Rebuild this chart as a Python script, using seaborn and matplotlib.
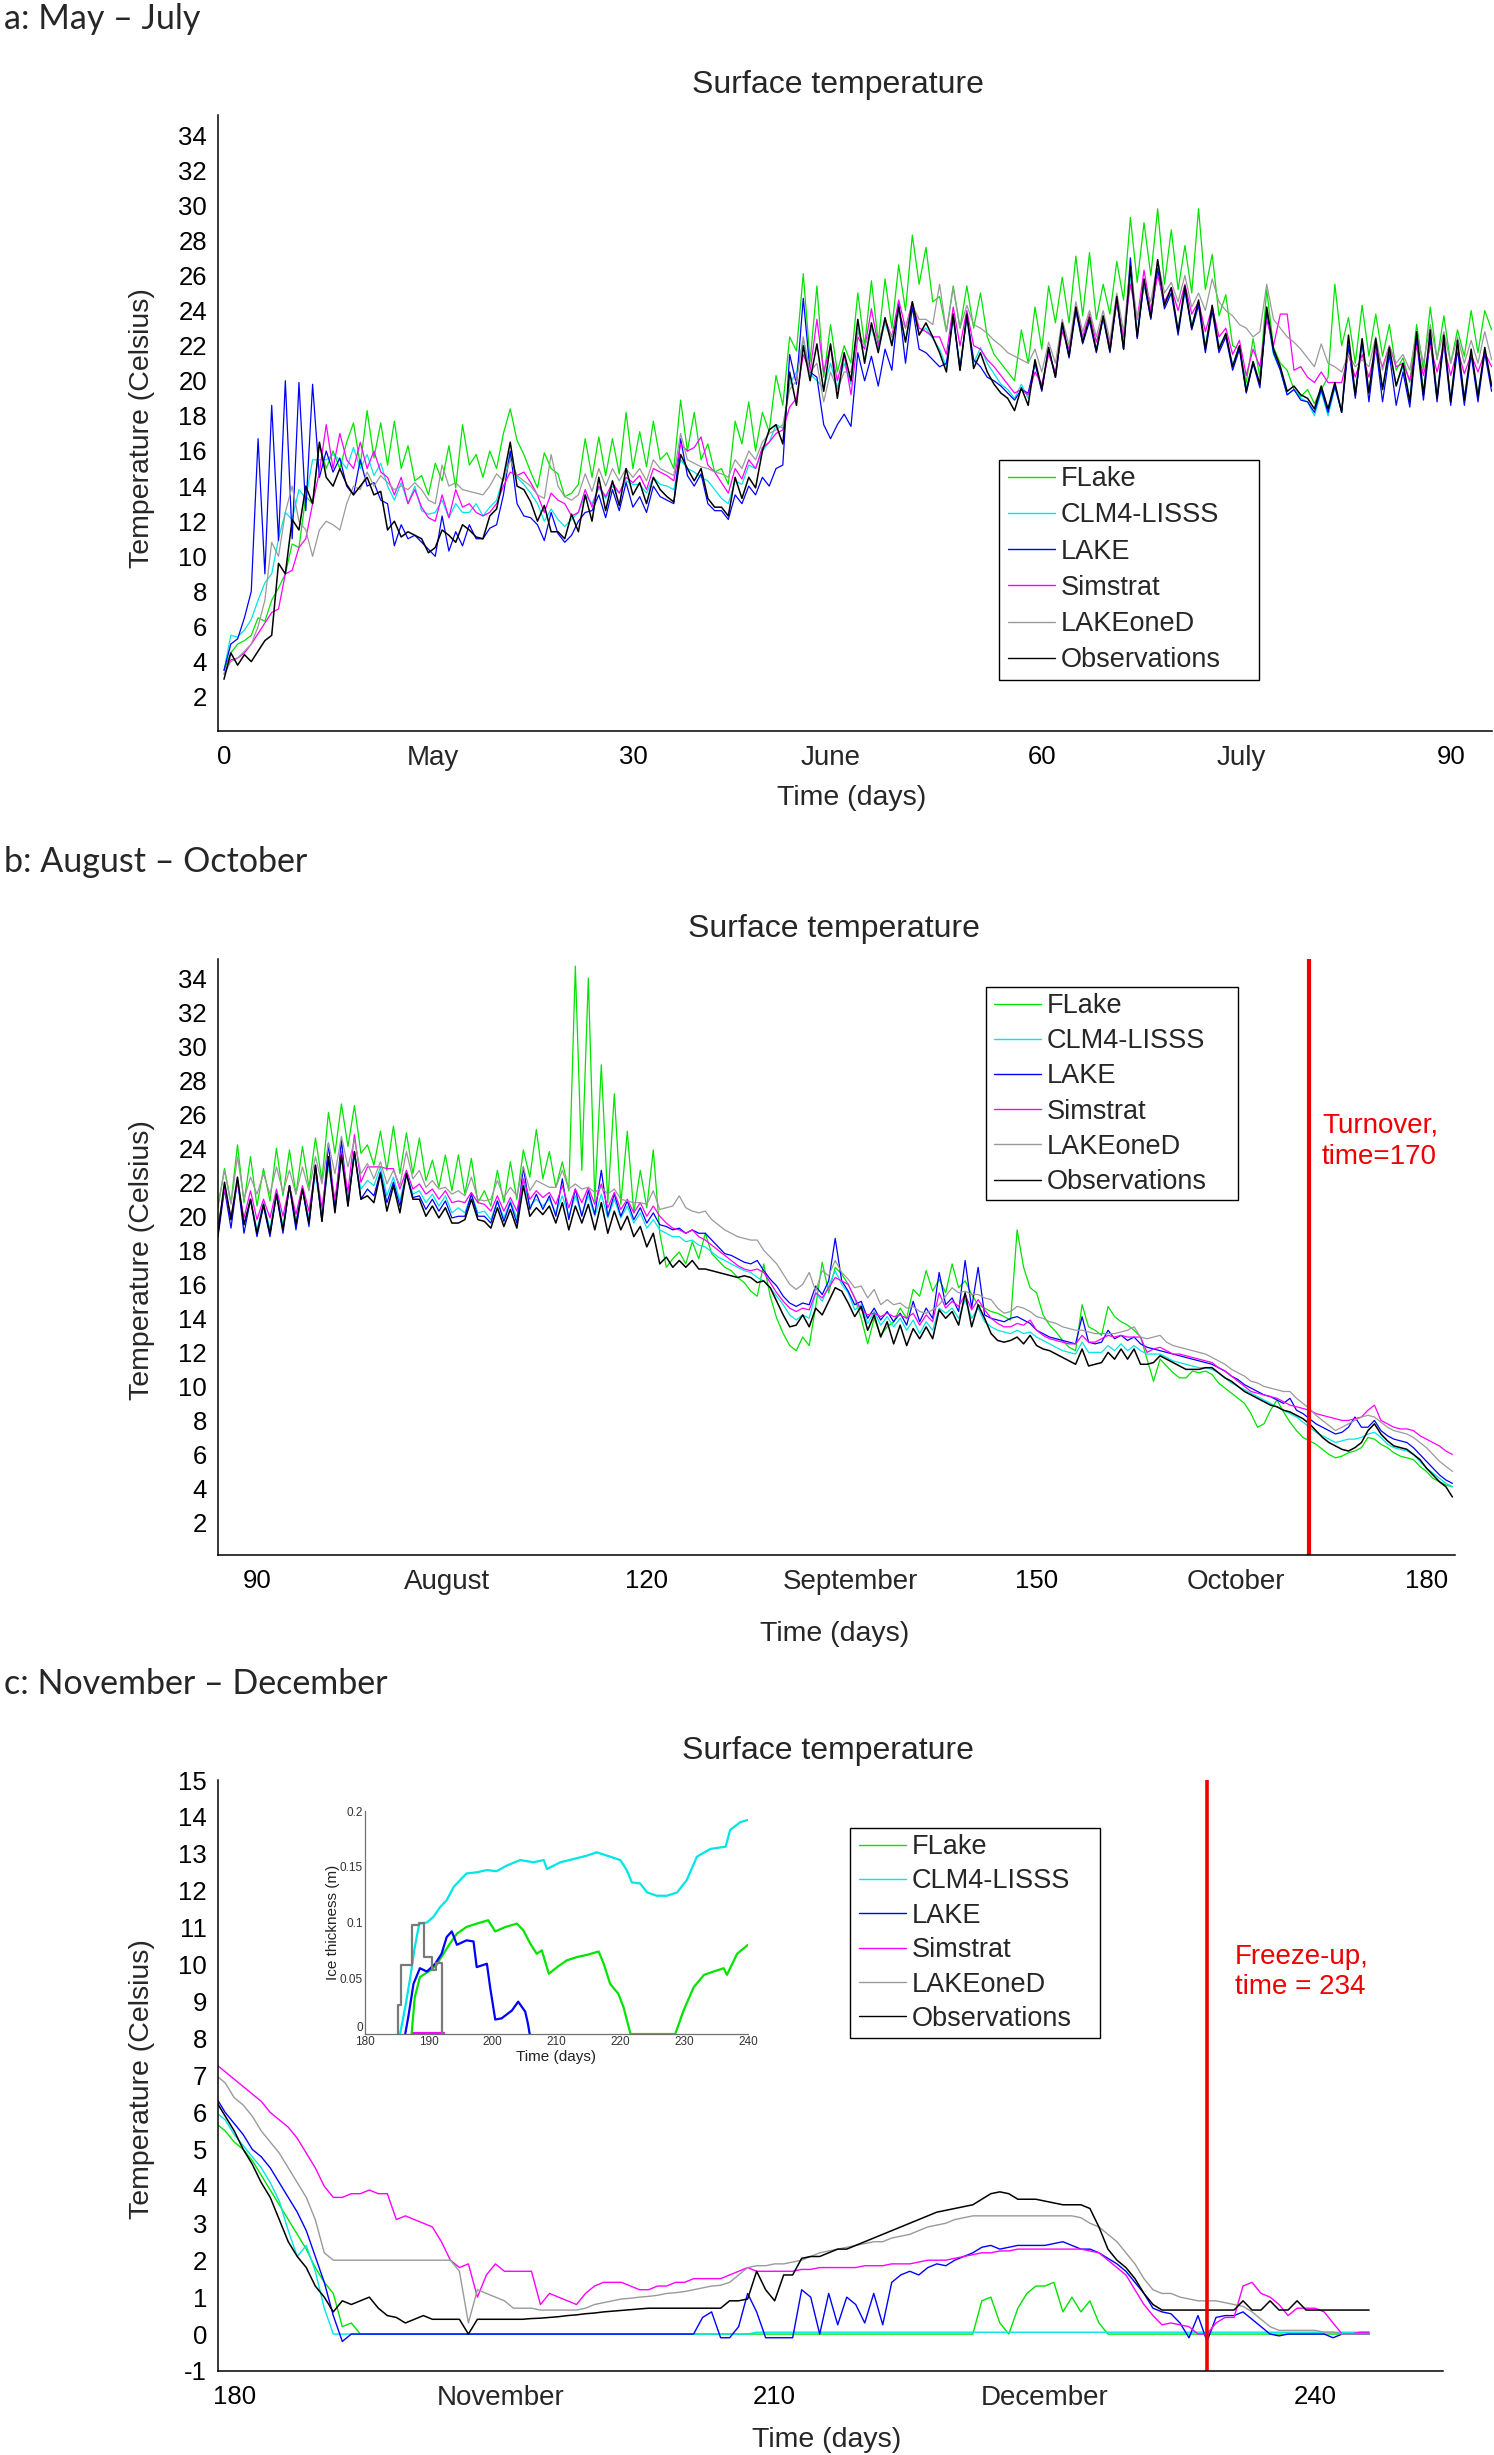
import numpy as np
import pandas as pd
import matplotlib
matplotlib.use("Agg")
import matplotlib.pyplot as plt
from matplotlib.lines import Line2D
from matplotlib.patches import Rectangle
import seaborn as sns

W, H = 1494, 2455

MODELS = ["FLake", "CLM4-LISSS", "LAKE", "Simstrat", "LAKEoneD", "Observations"]
COLORS = {"FLake": "#00e400", "CLM4-LISSS": "#00e6e6", "LAKE": "#0000ff",
          "Simstrat": "#ff00ff", "LAKEoneD": "#9a9a9a", "Observations": "#000000"}


def arr(s):
    return np.array(s.split(), dtype=float)


# ---------------- a: May - July (half-day samples) ----------------
DAYS_A = np.arange(0, 93.01, 0.5)
FLAKE_A = arr("""
3.5 4.5 5.0 5.2 5.5 6.5 6.3 7.5 8.2 9.0
10.7 10.5 13.4 13.0 16.4 15.0 16.0 15.0 16.5 17.6
15.2 18.3 15.6 17.6 15.2 17.7 15.0 16.3 14.3 14.6
13.5 15.3 14.3 16.3 13.9 17.5 15.2 15.8 14.5 16.0
15.0 17.0 18.4 16.6 15.8 14.8 13.9 15.9 15.0 14.7
13.4 13.6 14.1 16.7 14.5 16.8 14.6 16.7 14.7 18.2
15.0 17.1 15.1 17.7 15.5 15.9 15.0 18.9 16.0 18.2
15.5 16.4 14.8 15.0 14.1 17.7 16.4 18.8 16.0 18.2
17.1 20.3 18.6 22.5 21.7 26.1 21.1 25.4 20.2 23.2
20.5 22.0 21.0 25.0 22.0 25.7 22.2 25.8 23.0 26.6
24.0 28.3 25.5 27.6 24.5 24.8 22.8 25.4 23.0 25.4
23.0 25.0 22.5 21.5 21.0 20.5 20.0 22.9 21.0 24.2
21.8 25.4 23.3 25.9 23.3 27.1 23.7 27.3 23.5 25.5
23.8 26.8 24.6 29.3 25.6 29.0 26.0 29.8 25.5 28.6
25.2 27.7 25.0 29.8 25.2 27.2 23.7 24.9 22.0 21.8
19.9 22.4 20.2 25.2 21.9 21.0 20.6 19.5 19.1 19.5
18.7 19.5 20.2 25.5 22.0 23.6 21.0 24.3 21.4 23.8
21.4 23.2 20.6 21.3 19.9 23.2 20.6 24.2 21.2 23.7
21.0 22.9 21.4 24.0 21.6 24.0 22.9
""")
CLM4_A = arr("""
3.5 5.5 5.4 5.8 6.4 7.5 8.5 9.0 11.0 12.5
12.1 13.8 13.3 15.5 15.5 15.5 15.8 15.5 15.0 16.2
15.0 15.8 14.6 15.3 14.0 13.2 14.2 13.0 14.0 12.6
12.4 12.5 13.2 12.2 13.0 12.5 12.5 13.0 12.3 12.8
13.2 14.5 15.8 14.5 14.1 13.6 13.0 12.0 12.7 12.1
11.7 12.1 12.5 13.5 13.0 13.9 13.3 14.0 13.6 14.3
14.1 14.1 13.6 14.5 14.1 14.0 13.8 15.5 15.0 14.8
14.5 14.3 13.8 13.3 13.0 14.3 14.1 15.2 15.0 16.0
16.5 17.5 17.3 19.8 20.5 22.3 20.4 20.0 19.6 21.0
19.6 21.0 19.8 23.0 21.2 23.0 21.8 23.3 22.2 24.0
22.3 24.2 22.7 23.0 22.4 21.8 20.8 23.5 20.9 23.5
21.0 21.9 21.0 20.4 19.8 19.5 19.0 19.8 19.0 21.0
19.6 21.8 20.3 23.0 21.5 24.0 22.2 23.5 21.8 23.5
21.8 24.5 22.0 26.0 22.7 25.5 23.7 26.2 24.4 25.0
23.0 25.0 23.2 24.4 22.0 24.0 22.0 22.6 20.9 22.0
19.6 21.0 19.9 23.8 21.5 20.6 19.2 19.5 19.0 18.8
18.0 19.4 18.0 19.6 18.3 22.2 19.3 22.0 19.4 22.0
19.6 21.6 19.8 20.8 19.0 22.5 19.4 22.5 19.2 22.3
19.0 22.0 19.1 21.5 19.3 21.6 19.8
""")
LAKE_A = arr("""
3.5 5.0 5.3 6.5 8.0 16.7 9.0 18.6 10.9 20.0
11.0 19.9 12.6 19.8 14.5 16.0 14.8 15.6 14.0 13.5
15.5 14.0 14.2 13.2 13.0 10.6 11.8 11.0 11.2 10.8
10.4 10.0 12.3 10.3 11.4 10.6 11.8 11.0 11.0 11.6
11.8 13.5 16.0 13.0 12.3 12.2 11.8 10.9 12.5 11.3
10.8 11.2 12.0 12.5 12.6 13.5 12.2 13.8 12.6 14.2
12.8 13.4 12.5 14.0 13.4 13.2 13.0 16.7 14.6 14.0
14.7 13.0 12.6 12.6 12.1 13.5 13.0 14.0 13.5 14.5
14.0 15.0 15.2 21.5 19.8 24.7 20.5 20.2 17.5 16.7
17.5 18.1 17.4 21.6 20.0 21.4 19.7 21.8 20.6 24.4
21.0 24.2 21.8 21.6 21.2 20.8 21.0 23.7 20.6 23.7
21.2 20.8 20.2 20.0 19.7 19.3 18.9 19.5 19.3 21.0
19.4 21.8 20.2 23.2 21.3 24.0 22.1 23.4 21.6 23.6
21.6 24.6 21.8 27.0 22.4 25.6 23.5 26.4 24.1 25.0
22.6 25.2 22.9 24.3 21.6 24.0 21.6 22.5 20.6 21.8
19.3 21.0 19.6 24.0 21.6 20.6 19.2 19.5 18.9 18.8
18.2 19.5 18.2 19.7 18.2 22.0 19.0 22.3 18.8 22.0
18.8 21.5 18.6 20.5 18.5 22.3 18.9 22.4 18.8 22.2
18.6 21.8 18.6 21.5 18.8 21.6 19.4
""")
SIMSTRAT_A = arr("""
3.3 4.1 4.2 4.5 5.0 5.6 6.2 6.8 7.0 9.0
9.2 10.5 11.0 13.0 14.8 17.5 15.0 17.0 15.5 15.0
16.5 15.0 16.0 14.8 14.5 13.5 14.5 13.0 13.8 12.8
12.2 12.0 13.5 12.2 13.8 12.8 13.0 12.5 12.3 12.5
13.0 14.0 14.8 14.6 14.8 14.2 13.5 12.5 13.6 13.2
13.0 12.3 12.5 13.8 12.8 14.0 13.4 14.2 13.6 14.5
14.2 14.6 13.8 15.0 14.8 14.6 14.3 16.4 16.0 16.2
16.8 15.2 14.8 14.2 13.6 15.0 14.4 15.5 15.0 16.2
16.5 17.0 17.2 18.5 19.0 21.5 20.5 23.5 20.5 22.0
20.0 21.5 19.2 22.5 21.8 24.1 22.0 23.5 22.5 24.6
23.0 24.5 23.0 22.8 22.5 22.5 21.5 24.2 22.0 24.0
22.0 21.8 21.2 20.8 20.3 19.8 19.3 19.5 19.2 20.5
19.8 21.5 20.5 22.8 21.8 24.2 22.5 23.8 22.2 23.6
22.0 24.5 22.5 25.5 23.5 26.3 24.0 26.0 24.5 25.3
24.0 25.5 23.8 24.5 22.8 24.2 22.5 23.0 21.5 22.3
20.3 21.8 20.8 23.5 22.0 23.8 23.8 20.6 20.8 20.2
19.9 20.5 19.9 19.9 19.9 21.5 20.2 21.5 20.2 21.8
20.8 22.0 20.8 21.0 20.0 22.0 20.3 22.0 20.5 22.0
20.3 21.8 20.4 21.5 20.5 21.6 20.8
""")
LAKEONED_A = arr("""
3.3 4.0 4.2 4.6 5.0 6.0 7.5 10.8 10.0 12.5
14.0 12.0 11.5 10.0 11.5 12.0 11.8 11.5 13.0 14.0
13.8 14.8 14.0 14.6 14.2 13.8 14.0 13.8 14.2 13.8
13.2 13.0 15.2 14.0 14.2 13.8 13.7 13.6 13.5 14.0
14.7 14.3 15.5 14.6 14.3 14.0 13.5 13.3 15.8 14.0
13.4 13.2 13.5 14.7 13.7 15.0 14.0 15.0 14.3 15.0
14.5 15.0 14.3 15.5 15.0 14.8 14.6 17.0 15.5 15.3
15.1 15.0 14.8 14.7 14.5 15.5 15.0 16.0 15.5 16.5
17.0 17.2 17.5 19.5 20.0 22.5 20.5 21.0 18.8 20.5
19.5 20.5 20.5 22.8 22.0 23.0 22.3 23.3 22.5 23.8
23.0 24.3 23.5 23.5 23.2 25.5 22.8 25.3 23.0 24.3
23.2 23.0 22.7 22.3 22.0 21.6 21.4 21.2 21.0 21.8
20.5 22.2 21.0 23.5 22.0 24.5 22.8 24.0 22.5 24.0
22.3 25.0 22.8 26.5 23.5 25.5 24.5 26.8 25.0 25.6
24.5 26.0 24.2 25.0 24.0 25.8 24.5 24.0 23.7 23.2
23.0 22.5 22.8 25.5 23.5 23.0 22.5 22.2 21.8 21.3
20.8 22.1 21.0 20.8 20.5 21.5 20.8 21.2 20.8 22.5
20.6 22.0 21.0 21.5 20.6 22.8 21.0 23.2 21.3 22.8
21.0 22.5 21.0 22.3 21.0 22.8 21.2
""")
OBS_A = arr("""
3.0 4.5 3.8 4.4 4.0 4.6 5.2 5.5 9.6 9.0
12.1 11.5 14.0 13.0 16.5 14.5 14.0 15.0 14.1 13.5
14.0 14.5 13.5 13.7 11.5 12.0 11.1 11.4 11.2 11.0
10.2 10.5 11.5 11.2 10.8 11.8 11.5 11.1 11.0 12.3
12.7 14.5 16.5 14.0 13.8 13.1 12.0 12.9 11.4 11.4
11.0 12.4 11.4 13.5 12.0 14.5 12.6 14.3 12.9 15.0
13.5 14.2 13.0 14.5 13.8 13.4 13.1 15.8 15.0 14.3
15.0 13.3 12.8 12.8 12.3 14.5 13.3 14.5 13.9 16.0
17.2 17.5 16.4 20.5 18.6 22.0 20.0 22.1 19.4 22.1
19.0 21.6 20.0 23.5 21.0 23.3 21.6 23.6 22.0 24.2
22.2 24.5 22.6 23.3 22.5 21.6 20.5 23.8 20.6 23.8
20.7 21.6 20.5 19.8 19.3 19.0 18.3 19.6 18.6 21.2
19.5 21.9 20.2 23.3 21.4 24.2 22.2 23.6 21.7 23.7
21.7 24.8 21.8 26.5 22.5 25.8 23.6 26.9 24.3 25.3
22.8 25.4 23.0 24.6 21.8 24.3 21.8 22.7 20.8 22.0
19.4 21.1 19.8 24.2 21.8 20.8 19.4 19.7 19.2 19.0
18.4 19.7 18.4 19.9 18.2 22.6 19.2 22.4 19.3 22.4
19.5 21.9 19.7 21.0 18.8 22.8 19.2 22.9 19.0 22.6
18.8 22.3 18.9 21.8 19.1 21.9 19.7
""")

# ---------------- b: August - October ----------------
DAYS_B = np.arange(87, 182.01, 0.5)
FLAKE_B = arr("""
20.5 22.8 20.8 24.2 20.8 23.5 20.6 22.8 20.9 24.0
21.2 23.9 21.3 24.1 21.7 24.6 22.1 26.1 23.7 26.6
24.1 26.5 23.7 24.2 23.0 25.0 22.7 25.3 22.5 24.9
22.5 24.6 22.1 23.3 21.7 23.6 21.5 23.6 21.3 23.4
20.8 21.5 20.6 22.7 20.8 23.2 21.0 23.9 22.3 25.1
22.2 23.8 21.7 23.2 21.5 34.7 22.7 34.0 20.9 28.9
20.8 27.2 20.7 25.0 20.2 22.7 20.5 23.9 19.0 17.0
17.5 17.9 17.2 18.5 17.5 19.0 17.8 17.4 17.0 16.8
16.4 16.1 15.6 15.3 17.2 15.3 14.0 13.1 12.4 12.1
12.9 12.4 14.7 17.3 15.5 17.0 16.6 16.0 15.2 14.0
12.5 14.0 13.0 13.5 13.8 14.6 14.0 15.7 15.3 16.8
15.6 16.3 15.5 17.2 15.8 16.2 15.4 14.8 14.6 14.4
14.3 14.1 13.9 19.2 17.0 15.8 15.5 14.2 13.6 13.2
12.7 12.3 12.1 14.8 13.5 13.3 13.0 14.7 14.1 13.8
13.6 13.3 12.9 11.6 10.3 11.6 11.2 10.8 10.5 10.5
10.9 10.8 10.9 10.7 10.2 9.9 9.6 9.3 9.0 8.4
7.6 7.8 8.6 9.2 8.5 7.9 7.4 7.0 6.8 6.6
6.3 6.0 5.8 5.9 6.1 6.2 6.4 7.0 6.9 6.6
6.4 6.1 5.9 5.8 5.7 5.3 5.0 4.6 4.4 4.2
4.1
""")
CLM4_B = arr("""
19.0 21.8 19.8 22.0 19.5 21.0 19.2 20.8 19.2 21.5
19.4 21.8 19.7 21.6 19.9 22.5 20.0 23.0 20.6 23.4
21.0 23.5 21.6 22.1 21.8 22.9 21.2 22.3 20.9 22.6
21.3 21.5 20.8 21.3 20.6 21.2 20.2 20.5 20.2 21.3
20.2 20.3 19.8 20.9 19.9 20.9 19.9 22.0 20.6 21.0
20.6 21.0 20.2 21.2 20.0 21.2 20.1 21.2 20.0 21.3
19.9 21.0 19.9 20.6 19.6 20.2 19.3 19.8 19.2 19.0
18.8 18.8 18.5 18.6 18.3 18.2 17.9 17.6 17.4 17.2
17.0 16.8 16.7 16.4 16.2 15.8 15.3 14.8 14.2 13.9
14.2 14.0 15.5 15.0 15.9 16.8 16.0 15.5 14.5 14.8
13.7 14.4 13.6 14.1 13.5 14.0 13.3 13.9 13.1 13.8
13.3 14.6 14.3 14.6 14.0 15.1 14.0 14.6 13.8 13.5
13.3 13.2 13.1 13.3 13.1 13.2 12.9 12.7 12.5 12.3
12.1 12.0 11.9 12.6 12.0 12.0 12.0 12.4 12.1 12.5
12.1 12.4 12.1 11.9 11.9 11.9 11.7 11.5 11.4 11.3
11.2 11.1 11.1 11.0 10.8 10.5 10.2 10.0 9.8 9.6
9.4 9.2 9.0 8.8 8.6 8.4 8.2 7.9 7.6 7.3
7.1 6.9 6.7 6.8 6.9 6.9 7.0 7.2 7.3 7.0
6.6 6.4 6.3 6.2 6.0 5.6 5.2 4.9 4.6 4.3
4.1
""")
LAKE_B = arr("""
18.8 21.6 19.3 22.2 19.0 21.0 18.8 20.6 18.8 21.3
19.0 21.8 19.2 21.6 19.4 23.0 19.7 24.3 20.3 24.5
20.6 23.8 21.0 21.6 21.2 22.6 20.8 22.0 20.6 22.5
21.1 21.2 20.4 21.0 20.3 20.9 19.9 20.0 20.0 21.3
20.0 20.0 19.6 20.9 19.7 20.8 19.6 22.9 20.4 21.3
20.4 21.2 20.0 22.2 19.8 21.6 20.0 21.5 20.1 22.7
20.0 21.3 20.0 20.9 19.8 20.5 19.6 20.2 19.5 19.4
19.2 19.3 19.0 19.2 19.0 19.0 18.6 18.2 17.8 17.7
17.5 17.3 17.2 17.4 16.8 16.3 15.9 15.3 14.9 14.7
14.9 14.8 15.9 15.4 16.2 18.7 16.2 15.6 14.8 15.0
14.0 14.6 13.9 14.4 13.8 14.3 13.6 15.0 13.8 14.6
14.0 16.7 14.8 15.2 14.4 17.4 14.6 17.0 14.2 14.0
13.9 13.8 14.0 14.1 13.9 13.7 13.3 13.1 12.9 12.8
12.7 12.6 12.5 14.1 12.6 12.5 12.6 13.3 12.8 13.0
12.7 12.9 12.5 12.3 12.2 12.1 12.0 11.9 11.8 11.7
11.6 11.5 11.4 11.3 11.1 10.9 10.6 10.4 10.1 9.9
9.7 9.5 9.4 9.2 9.0 9.3 8.6 8.4 8.1 7.8
7.6 7.4 7.2 7.3 7.6 8.2 7.6 7.6 8.0 7.4
7.1 6.9 6.8 6.7 6.4 6.0 5.6 5.2 4.8 4.5
4.3
""")
SIMSTRAT_B = arr("""
19.5 21.6 20.0 22.0 19.9 21.5 19.8 21.0 19.9 21.6
20.0 21.8 20.1 21.8 20.3 22.8 20.5 23.3 21.0 23.8
21.4 24.8 22.0 22.9 22.9 22.9 22.8 22.8 21.6 22.7
21.6 21.9 21.3 21.6 21.0 21.5 20.8 20.9 20.8 21.4
20.8 20.7 20.3 21.2 20.3 21.1 20.3 22.2 21.0 21.5
21.1 21.4 20.7 21.8 20.5 21.6 20.8 21.7 20.7 21.9
20.5 21.4 20.4 21.0 20.2 20.8 20.0 20.6 20.0 19.6
19.3 19.2 19.0 19.2 18.8 18.6 18.3 18.0 17.7 17.4
17.1 16.9 16.8 16.9 16.7 16.1 15.5 15.0 14.6 14.4
14.6 14.5 15.5 15.2 15.8 16.4 16.2 16.0 15.2 14.5
14.2 14.3 14.1 14.3 14.1 14.2 14.0 14.3 13.6 14.2
13.8 15.5 14.6 15.0 14.7 15.4 14.5 15.1 14.5 14.0
13.7 13.5 13.5 13.7 13.6 13.9 13.3 13.0 12.8 12.7
12.6 12.5 12.5 13.0 12.6 12.6 12.8 13.0 12.9 13.0
12.9 12.9 12.9 12.0 12.2 12.3 12.1 11.9 11.9 11.8
11.7 11.6 11.5 11.4 11.1 10.9 10.6 10.3 10.0 9.7
9.6 9.5 9.4 9.3 9.1 8.9 8.8 8.7 8.6 8.4
8.3 8.2 8.1 8.0 8.0 8.1 8.2 8.6 8.9 8.0
7.8 7.6 7.5 7.5 7.4 7.1 6.9 6.7 6.5 6.2
6.0
""")
LAKEONED_B = arr("""
20.7 22.7 20.7 23.5 21.0 22.3 21.3 22.5 21.3 22.9
21.4 22.7 21.3 22.9 21.5 23.5 21.9 24.3 22.5 24.7
22.9 24.5 22.5 23.1 22.2 23.2 21.9 22.7 21.8 23.8
22.2 22.7 21.7 22.1 21.6 21.7 21.3 21.5 21.2 22.3
21.0 20.9 21.0 22.1 21.1 21.7 21.2 22.9 21.5 22.1
21.9 21.7 21.7 22.7 21.6 21.9 21.6 21.7 21.4 21.7
21.3 21.6 21.0 20.9 20.8 20.8 20.7 21.5 20.4 20.5
20.6 21.2 20.5 20.3 20.2 20.3 19.8 19.5 19.2 19.0
18.8 18.7 18.6 18.6 18.0 17.6 17.2 16.6 16.0 15.7
16.0 16.7 15.6 16.8 16.5 17.4 16.7 16.3 15.8 15.9
15.2 15.7 14.8 15.1 14.8 14.9 14.6 14.7 14.4 14.3
14.5 14.8 15.3 15.8 15.5 15.6 15.4 15.4 15.2 15.1
14.6 14.3 14.4 14.7 14.6 14.4 14.1 14.0 13.8 13.7
13.5 13.4 13.3 13.3 13.2 13.1 13.1 13.1 13.1 13.2
13.3 13.5 12.9 12.8 12.9 13.0 12.6 12.4 12.3 12.2
12.1 12.0 11.9 11.7 11.5 11.3 11.0 10.8 10.6 10.3
10.2 10.0 9.9 9.8 9.7 9.7 9.3 9.0 8.7 8.3
8.0 7.7 7.4 7.6 7.8 8.0 8.2 8.3 8.2 7.9
7.6 7.4 7.3 7.2 7.0 6.7 6.4 6.0 5.6 5.3
5.0
""")
OBS_B = arr("""
19.0 22.0 19.8 22.3 19.5 21.0 19.0 20.7 19.0 21.3
19.2 21.8 19.5 21.6 19.6 23.0 19.7 23.5 20.2 23.6
20.6 23.8 21.0 21.2 20.8 22.5 20.3 21.8 20.2 22.5
21.0 21.0 20.0 20.6 19.9 20.5 19.6 19.6 19.8 21.0
19.8 19.7 19.3 20.5 19.4 20.4 19.3 21.8 20.0 20.5
20.1 20.6 19.6 20.8 19.2 20.6 19.6 20.7 19.2 20.8
19.0 20.3 19.2 20.0 18.8 19.4 18.2 19.0 17.2 17.6
17.0 17.4 17.0 17.4 16.9 16.9 16.8 16.7 16.6 16.5
16.4 16.5 16.4 16.1 16.2 15.8 15.0 14.2 13.5 13.6
14.2 13.5 14.6 14.2 15.0 15.8 15.6 14.9 14.1 14.7
13.3 14.2 12.9 13.8 12.5 13.6 12.4 13.4 12.8 13.5
12.8 14.5 14.0 14.4 13.6 15.5 13.5 14.8 14.0 13.1
12.7 12.6 12.7 12.9 12.5 13.0 12.4 12.2 12.1 11.9
11.7 11.5 11.3 12.2 11.2 11.3 11.4 12.0 11.6 12.2
11.6 12.2 11.3 11.3 11.4 11.8 11.6 11.4 11.2 11.0
11.0 11.0 11.1 11.1 10.8 10.5 10.3 10.0 9.7 9.5
9.3 9.1 8.9 8.8 8.6 8.5 8.3 8.1 7.8 7.4
7.0 6.7 6.5 6.3 6.2 6.4 6.7 7.4 7.8 7.2
6.8 6.5 6.4 6.3 6.0 5.7 5.2 4.8 4.4 4.1
3.5
""")

# ---------------- c: November - December ----------------
DAYS_C = np.arange(179, 243.01, 0.5)
FLAKE_C = arr("""
5.7 5.5 5.2 5.0 4.7 4.3 3.9 3.5 3.1 2.7
2.3 1.8 1.4 1.1 0.2 0.3 0.0 0.0 0.0 0.0
0.0 0.0 0.0 0.0 0.0 0.0 0.0 0.0 0.0 0.0
0.0 0.0 0.0 0.0 0.0 0.0 0.0 0.0 0.0 0.0
0.0 0.0 0.0 0.0 0.0 0.0 0.0 0.0 0.0 0.0
0.0 0.0 0.0 0.0 0.0 0.0 0.0 0.0 0.0 0.0
0.0 0.0 0.0 0.0 0.0 0.0 0.0 0.0 0.0 0.0
0.0 0.0 0.0 0.0 0.0 0.0 0.0 0.0 0.0 0.0
0.0 0.0 0.0 0.0 0.0 0.9 1.0 0.3 0.0 0.7
1.1 1.3 1.3 1.4 0.6 1.0 0.6 0.9 0.3 0.0
0.0 0.0 0.0 0.0 0.0 0.0 0.0 0.0 0.0 0.0
0.0 0.0 0.0 0.0 0.0 0.0 0.0 0.0 0.0 0.0
0.0 0.0 0.0 0.0 0.0 0.0 0.0 0.0 0.0
""")
CLM4_C = arr("""
6.0 5.8 5.4 5.1 4.8 4.5 4.1 3.6 2.8 2.1
2.4 1.7 0.7 0.0 0.0 0.0 0.0 0.0 0.0 0.0
0.0 0.0 0.0 0.0 0.0 0.0 0.0 0.0 0.0 0.0
0.0 0.0 0.0 0.0 0.0 0.0 0.0 0.0 0.0 0.0
0.0 0.0 0.0 0.0 0.0 0.0 0.0 0.0 0.0 0.0
0.0 0.0 0.0 0.0 0.0 0.0 0.0 0.0 0.0 0.0
0.05 0.05 0.05 0.05 0.05 0.05 0.05 0.05 0.05 0.05
0.05 0.05 0.05 0.05 0.05 0.05 0.05 0.05 0.05 0.05
0.05 0.05 0.05 0.05 0.05 0.05 0.05 0.05 0.05 0.05
0.05 0.05 0.05 0.05 0.05 0.05 0.05 0.05 0.05 0.05
0.05 0.05 0.05 0.05 0.05 0.05 0.05 0.05 0.05 0.05
0.05 0.05 0.05 0.05 0.05 0.05 0.05 0.05 0.05 0.05
0.05 0.05 0.05 0.05 0.05 0.05 0.05 0.05 0.05
""")
LAKE_C = arr("""
6.4 6.0 5.7 5.4 5.0 4.8 4.5 4.1 3.7 3.3
2.8 2.1 1.4 0.5 -0.2 0.0 0.0 0.0 0.0 0.0
0.0 0.0 0.0 0.0 0.0 0.0 0.0 0.0 0.0 0.0
0.0 0.0 0.0 0.0 0.0 0.0 0.0 0.0 0.0 0.0
0.0 0.0 0.0 0.0 0.0 0.0 0.0 0.0 0.0 0.0
0.0 0.0 0.0 0.0 0.45 0.6 -0.1 -0.1 0.2 1.1
0.6 -0.1 -0.1 -0.1 -0.1 1.2 1.0 0.0 1.1 0.25
1.0 0.8 0.3 1.1 0.25 1.4 1.6 1.7 1.6 1.8
1.9 1.85 2.0 2.1 2.2 2.35 2.4 2.3 2.35 2.4
2.4 2.4 2.4 2.45 2.5 2.4 2.3 2.3 2.2 2.05
1.9 1.7 1.4 1.1 0.7 0.6 0.55 0.3 -0.1 0.5
-0.2 0.45 0.5 0.5 0.6 0.4 0.2 0.0 -0.05 0.0
0.0 0.0 0.0 0.0 -0.1 0.0 0.0 0.0 0.0
""")
SIMSTRAT_C = arr("""
7.3 7.1 6.9 6.7 6.5 6.3 6.0 5.8 5.6 5.3
4.9 4.5 4.0 3.7 3.7 3.8 3.8 3.9 3.8 3.8
3.1 3.2 3.1 3.0 2.9 2.5 2.0 1.8 1.9 1.0
1.6 1.9 1.7 1.7 1.7 1.7 0.8 1.1 1.0 0.9
0.8 1.1 1.3 1.4 1.4 1.4 1.3 1.2 1.2 1.3
1.3 1.4 1.4 1.5 1.5 1.5 1.5 1.6 1.7 1.8
1.7 1.7 1.7 1.7 1.7 1.75 1.75 1.8 1.8 1.8
1.8 1.8 1.85 1.85 1.85 1.9 1.9 1.9 1.95 2.0
2.0 2.0 2.05 2.1 2.15 2.2 2.2 2.25 2.25 2.3
2.3 2.3 2.3 2.3 2.3 2.3 2.3 2.25 2.2 2.0
1.8 1.6 1.2 0.8 0.5 0.25 0.3 0.25 0.2 0.0
0.0 0.3 0.45 0.45 1.3 1.4 1.1 1.0 0.8 0.5
0.7 0.7 0.7 0.6 0.3 0.0 0.0 0.05 0.05
""")
LAKEONED_C = arr("""
7.0 6.8 6.4 6.2 5.9 5.5 5.2 4.9 4.5 4.1
3.7 3.1 2.2 2.0 2.0 2.0 2.0 2.0 2.0 2.0
2.0 2.0 2.0 2.0 2.0 2.0 2.0 1.7 0.3 1.2
1.1 1.0 0.9 0.7 0.7 0.7 0.65 0.65 0.65 0.65
0.65 0.7 0.8 0.85 0.9 0.95 0.97 1.0 1.02 1.05
1.1 1.12 1.15 1.2 1.25 1.3 1.32 1.4 1.6 1.8
1.85 1.85 1.9 1.9 1.95 2.0 2.1 2.2 2.25 2.3
2.35 2.4 2.45 2.5 2.5 2.6 2.65 2.7 2.8 2.9
2.95 3.0 3.1 3.15 3.2 3.2 3.2 3.2 3.2 3.2
3.2 3.2 3.2 3.2 3.2 3.2 3.15 3.0 2.9 2.7
2.5 2.2 1.9 1.5 1.2 1.1 1.1 1.0 0.95 0.9
0.9 0.9 0.85 0.8 0.75 0.6 0.4 0.2 0.1 0.1
0.1 0.1 0.1 0.05 0.05 0.0 0.0 0.0 0.0
""")
OBS_C = arr("""
6.3 5.9 5.5 5.0 4.6 4.1 3.7 3.1 2.5 2.1
1.8 1.3 1.0 0.6 0.9 0.8 0.9 1.0 0.7 0.5
0.45 0.3 0.4 0.5 0.4 0.4 0.4 0.4 0.0 0.4
0.4 0.4 0.4 0.4 0.4 0.42 0.43 0.45 0.47 0.5
0.52 0.55 0.57 0.6 0.62 0.64 0.66 0.68 0.7 0.7
0.7 0.7 0.7 0.7 0.7 0.7 0.7 0.9 0.9 0.95
1.7 1.2 0.9 1.6 1.6 2.05 2.1 2.1 2.2 2.3
2.3 2.4 2.5 2.6 2.7 2.8 2.9 3.0 3.1 3.2
3.3 3.35 3.4 3.45 3.5 3.65 3.8 3.85 3.8 3.65
3.65 3.65 3.6 3.55 3.5 3.5 3.5 3.4 2.9 2.3
2.0 1.8 1.5 1.1 0.8 0.65 0.65 0.65 0.65 0.65
0.65 0.65 0.65 0.65 0.9 0.65 0.65 0.9 0.65 0.65
0.9 0.65 0.65 0.65 0.65 0.65 0.65 0.65 0.65
""")

# ice thickness inset (m)
ICE_CLM4_DAYS = [185.5, 186.3, 187.1, 187.8, 188.5, 189.7, 190.7, 191.8, 192.8, 193.9,
                 194.9, 195.9, 197.5, 199.1, 200.6, 202.2, 204.3, 206.4, 208.0, 208.5,
                 210.6, 212.7, 214.8, 216.3, 217.9, 220.0, 221.0, 221.8, 223.1, 224.2,
                 225.7, 227.3, 228.9, 230.4, 232.0, 234.1, 236.5, 237.2, 238.8, 240.0]
ICE_CLM4 = [0, 0.024, 0.051, 0.078, 0.099, 0.1, 0.105, 0.114, 0.12, 0.132,
            0.138, 0.144, 0.145, 0.147, 0.146, 0.151, 0.156, 0.154, 0.156, 0.148,
            0.154, 0.157, 0.16, 0.163, 0.16, 0.156, 0.147, 0.136, 0.135, 0.127,
            0.124, 0.124, 0.127, 0.138, 0.159, 0.166, 0.168, 0.183, 0.19, 0.192]
ICE_FLAKE_DAYS = [187.3, 187.8, 188.6, 190.2, 191.2, 192.3, 193.3, 194.4, 195.9, 197.5,
                  199.3, 200.4, 202.0, 203.8, 204.8, 205.9, 206.9, 207.7, 208.8, 210.1,
                  211.6, 213.2, 214.8, 216.6, 217.4, 218.4, 219.7, 220.5, 221.6, 228.6,
                  229.9, 231.5, 233.1, 234.6, 236.2, 236.7, 238.3, 240.0]
ICE_FLAKE = [0, 0.033, 0.051, 0.057, 0.062, 0.072, 0.081, 0.09, 0.096, 0.099,
             0.102, 0.092, 0.096, 0.099, 0.093, 0.081, 0.072, 0.075, 0.054, 0.06,
             0.066, 0.069, 0.071, 0.074, 0.063, 0.045, 0.036, 0.024, 0, 0,
             0.021, 0.042, 0.053, 0.056, 0.059, 0.053, 0.072, 0.08]
ICE_LAKE_DAYS = [186.3, 186.8, 187.6, 188.6, 189.7, 191.0, 192.0, 192.8, 193.6, 194.4,
                 195.9, 197.0, 197.5, 199.1, 199.6, 200.4, 201.4, 203.0, 204.0, 205.1,
                 205.5, 205.8]
ICE_LAKE = [0, 0.016, 0.045, 0.059, 0.056, 0.063, 0.072, 0.087, 0.092, 0.08,
            0.084, 0.083, 0.06, 0.063, 0.042, 0.013, 0.014, 0.021, 0.029, 0.02,
            0.01, 0]
ICE_ONED_DAYS = [185.2, 185.2, 185.7, 187.3, 188.5, 189.3, 190.5, 191.2, 192.1]
ICE_ONED = [0, 0.026, 0.062, 0.098, 0.1, 0.069, 0.057, 0.064, 0]
ICE_SIM_DAYS = [187.3, 192.3]
ICE_SIM = [0.0005, 0.0005]

MONTHS_A, MONTH_POS_A = ["May", "June", "July"], [15.3, 44.5, 74.6]
MONTHS_B, MONTH_POS_B = ["August", "September", "October"], [104.6, 135.7, 165.3]
MONTHS_C, MONTH_POS_C = ["November", "December"], [194.8, 225.0]

sns.set_theme(style="white")
plt.rcParams["font.family"] = ["Liberation Sans", "DejaVu Sans"]

fig = plt.figure(figsize=(W / 100, H / 100), dpi=100)


def fx(px):
    return px / W


def fy(py):
    return 1 - py / H


def draw(ax, days, values, name, lw):
    df = pd.DataFrame({"day": days, "temp": values})
    assert len(days) == len(values), (name, len(days), len(values))
    sns.lineplot(data=df, x="day", y="temp", ax=ax, color=COLORS[name],
                 linewidth=lw, estimator=None, sort=False)


def style_axes(ax, xlim, ylim, xticks, yticks, months, mpos):
    ax.set_xlim(*xlim)
    ax.set_ylim(*ylim)
    ax.set_xlabel("")
    ax.set_ylabel("")
    for s in ["top", "right"]:
        ax.spines[s].set_visible(False)
    for s in ["left", "bottom"]:
        ax.spines[s].set_color("black")
        ax.spines[s].set_linewidth(1.1)
    ax.set_xticks(xticks)
    ax.set_xticklabels([str(t) for t in xticks])
    ax.set_xticks(mpos, minor=True)
    ax.set_xticklabels(months, minor=True)
    ax.set_yticks(yticks)
    ax.set_yticklabels([str(t) for t in yticks])
    ax.tick_params(axis="both", which="major", direction="in", length=8.5, width=1,
                   color="black", labelsize=18.5, labelcolor="black")
    ax.tick_params(axis="x", which="major", pad=10)
    ax.tick_params(axis="y", which="major", pad=8)
    ax.tick_params(axis="x", which="minor", length=0, labelsize=20, pad=10)
    ax.tick_params(axis="y", which="minor", left=False)
    ax.grid(False)


def add_legend(ax, hx, hy, box, spacing):
    handles = [Line2D([], [], color=COLORS[m], lw=1.0) for m in MODELS]
    ax.legend(handles, MODELS, loc="upper left", bbox_to_anchor=(fx(hx), fy(hy)),
              bbox_transform=fig.transFigure, frameon=False, borderpad=0,
              borderaxespad=0, handlelength=1.75, handletextpad=0.2,
              labelspacing=spacing, fontsize=19.5)
    x0, y0, x1, y1 = box
    fig.add_artist(Rectangle((fx(x0), fy(y1)), (x1 - x0) / W, (y1 - y0) / H,
                             transform=fig.transFigure, fill=False,
                             edgecolor="black", linewidth=1.0))


def panel_text(label, ybase, title, tx, tbase, ylab_y, xlab_x, xlab_y):
    fig.text(fx(4), fy(ybase), label, family=["Lato", "DejaVu Sans"], fontsize=24.5,
             va="baseline", ha="left")
    fig.text(fx(tx), fy(tbase), title, fontsize=23, ha="center", va="baseline")
    fig.text(fx(142), fy(ylab_y), "Temperature (Celsius)", fontsize=20.5,
             rotation=90, ha="center", va="center")
    fig.text(fx(xlab_x), fy(xlab_y), "Time (days)", fontsize=20.5,
             ha="center", va="center")


# ---- panel a
ax_a = fig.add_axes([fx(218), fy(731), (1492 - 218) / W, (731 - 115) / H])
for name, vals in zip(MODELS, [FLAKE_A, CLM4_A, LAKE_A, SIMSTRAT_A, LAKEONED_A, OBS_A]):
    draw(ax_a, DAYS_A, vals, name, 1.1 if name == "Observations" else 0.9)
style_axes(ax_a, (-0.44, 93.03), (0.05, 35.14), [0, 30, 60, 90],
           list(range(2, 35, 2)), MONTHS_A, MONTH_POS_A)
add_legend(ax_a, 1008, 466, (999, 460, 1259, 680), 0.38)
panel_text("a: May \u2013 July", 29, "Surface temperature", 838, 93, 428, 852, 798)

# ---- panel b
ax_b = fig.add_axes([fx(218), fy(1555), (1455 - 218) / W, (1555 - 959) / H])
for name, vals in zip(MODELS, [FLAKE_B, CLM4_B, LAKE_B, SIMSTRAT_B, LAKEONED_B, OBS_B]):
    draw(ax_b, DAYS_B, vals, name, 1.1 if name == "Observations" else 0.9)
ax_b.axvline(171, color="#ee0000", linewidth=3)
style_axes(ax_b, (87.0, 182.2), (0.09, 35.12), [90, 120, 150, 180],
           list(range(2, 35, 2)), MONTHS_B, MONTH_POS_B)
add_legend(ax_b, 994, 993, (986, 987, 1238, 1200), 0.34)
ax_b.text(fx(1322), fy(1133), "Turnover,", transform=fig.transFigure,
          color="#ee0000", fontsize=20, va="baseline")
ax_b.text(fx(1322), fy(1164), "time=170", transform=fig.transFigure,
          color="#ee0000", fontsize=20, va="baseline")
panel_text("b: August \u2013 October", 872, "Surface temperature", 834, 937, 1260, 835, 1634)

# ---- panel c
ax_c = fig.add_axes([fx(218), fy(2371), (1443 - 218) / W, (2371 - 1780) / H])
for name, vals in zip(MODELS, [FLAKE_C, CLM4_C, LAKE_C, SIMSTRAT_C, LAKEONED_C, OBS_C]):
    draw(ax_c, DAYS_C, vals, name, 1.1 if name == "Observations" else 1.0)
ax_c.axvline(234, color="#ee0000", linewidth=2.6)
style_axes(ax_c, (179.1, 247.1), (-1, 15), [180, 210, 240],
           list(range(-1, 16)), MONTHS_C, MONTH_POS_C)
add_legend(ax_c, 859, 1834, (850, 1828, 1100, 2038), 0.31)
ax_c.text(fx(1235), fy(1964), "Freeze-up,", transform=fig.transFigure,
          color="#ee0000", fontsize=20, va="baseline")
ax_c.text(fx(1235), fy(1994), "time = 234", transform=fig.transFigure,
          color="#ee0000", fontsize=20, va="baseline")
panel_text("c: November \u2013 December", 1694, "Surface temperature", 828, 1759, 2079, 827, 2440)

# ---- inset: ice thickness
ax_i = fig.add_axes([fx(365), fy(2034), (748 - 365) / W, (2034 - 1811) / H])
for d, v, name in [(ICE_SIM_DAYS, ICE_SIM, "Simstrat"), (ICE_CLM4_DAYS, ICE_CLM4, "CLM4-LISSS"),
                   (ICE_FLAKE_DAYS, ICE_FLAKE, "FLake"), (ICE_LAKE_DAYS, ICE_LAKE, "LAKE")]:
    draw(ax_i, d, v, name, 1.6)
ax_i.plot(ICE_ONED_DAYS, ICE_ONED, color="#7a7a7a", linewidth=1.6, drawstyle="steps-post")
ax_i.set_xlim(180, 240)
ax_i.set_ylim(0, 0.2)
ax_i.set_xlabel("")
ax_i.set_ylabel("")
for s in ["top", "right"]:
    ax_i.spines[s].set_visible(False)
for s in ["left", "bottom"]:
    ax_i.spines[s].set_color("#707070")
    ax_i.spines[s].set_linewidth(0.9)
ax_i.set_xticks(range(180, 241, 10))
ax_i.set_yticks([0, 0.05, 0.1, 0.15, 0.2])
ax_i.set_yticklabels(["0", "0.05", "0.1", "0.15", "0.2"])
ax_i.tick_params(direction="in", length=2.5, width=0.8, color="#707070",
                 labelsize=8.5, labelcolor="#333333", pad=1.5)
ax_i.get_yticklabels()[0].set_va("bottom")
ax_i.set_facecolor("none")
ax_i.grid(False)
fig.text(fx(333), fy(1922), "Ice thickness (m)", fontsize=11, rotation=90,
         ha="center", va="center", color="#222222")
fig.text(fx(556), fy(2057), "Time (days)", fontsize=11, ha="center", va="center",
         color="#222222")

fig.savefig("out.png", dpi=100)
